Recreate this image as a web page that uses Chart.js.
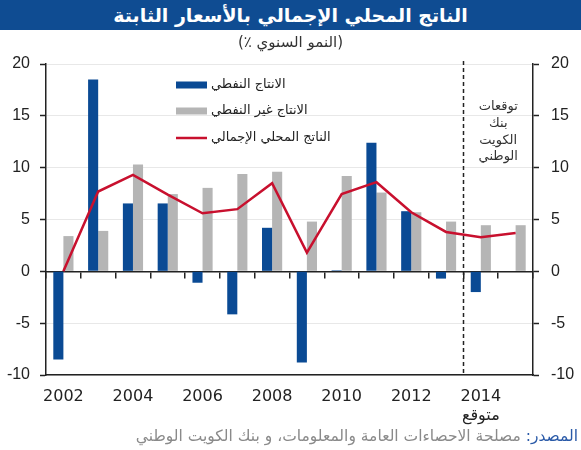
<!DOCTYPE html>
<html><head><meta charset="utf-8">
<script src="https://cdn.jsdelivr.net/npm/chart.js@4.4.1/dist/chart.umd.min.js"></script>
<style>
html,body{margin:0;padding:0;background:#fff;}
#wrap{position:relative;width:581px;height:450px;overflow:hidden;font-family:"DejaVu Sans",Arial,sans-serif;}
canvas{position:absolute;left:0;top:0;}
#banner{position:absolute;left:0;top:0;width:581px;height:30px;background:#0F4C92;color:#fff;font-weight:bold;font-size:19px;line-height:30px;text-align:center;}
#sub{position:absolute;left:0;top:33px;width:581px;text-align:center;font-size:15px;color:#333;line-height:18px;}
#src{position:absolute;right:3px;top:427px;font-size:15.5px;color:#8a8a8a;white-space:nowrap;line-height:18px;}
#src span{color:#2a5aa8;}
</style></head>
<body><div id="wrap">
<canvas id="c" width="581" height="450"></canvas>
<div id="banner" dir="rtl">الناتج المحلي الإجمالي بالأسعار الثابتة</div>
<div id="sub" dir="ltr">(٪ <span dir="rtl">النمو السنوي</span>)</div>
<div id="src" dir="rtl"><span>المصدر:</span> مصلحة الاحصاءات العامة والمعلومات، و بنك الكويت الوطني</div>
</div>
<script>
const years = ['2002','2003','2004','2005','2006','2007','2008','2009','2010','2011','2012','2013','2014','2015'];
const tickLabels = ['2002','','2004','','2006','','2008','','2010','','2012','','2014',''];
const forecastLabel = 'متوقع';
const forecastStart = 12;
const forecastNote = ['توقعات','بنك','الكويت','الوطني'];
const seriesNames = ['الانتاج النفطي','الانتاج غير النفطي','الناتج المحلي الإجمالي'];
const oilGrowth = [-8.5, 18.5, 6.55, 6.55, -1.1, -4.15, 4.2, -8.8, 0.1, 12.4, 5.8, -0.7, -2.0, null];
const nonOilGrowth = [3.4, 3.9, 10.3, 7.45, 8.05, 9.4, 9.6, 4.8, 9.2, 7.6, 5.7, 4.8, 4.45, 4.45];
const gdpGrowth = [0.0, 7.7, 9.3, 7.4, 5.6, 6.0, 8.5, 1.8, 7.45, 8.6, 5.7, 3.8, 3.3, 3.7];
const yTicks = {min:-10, max:20, step:5};

const BLUE = '#0A4A94', GREY = '#B5B5B5', RED = '#C8102E', AX = '#222';

const overlay = {
  id: 'overlay',
  afterDatasetsDraw(chart) {
    const {ctx, chartArea, scales} = chart;
    const x = scales.x;
    const px = Math.round((x.getPixelForValue(forecastStart - 1) + x.getPixelForValue(forecastStart)) / 2) + 0.5;
    ctx.save();
    ctx.strokeStyle = AX; ctx.lineWidth = 1.5; ctx.setLineDash([4, 3]);
    ctx.beginPath(); ctx.moveTo(px, chartArea.top - 3); ctx.lineTo(px, chartArea.bottom); ctx.stroke();
    ctx.setLineDash([]);
    ctx.fillStyle = '#333'; ctx.font = '13px "DejaVu Sans", Arial, sans-serif';
    ctx.textAlign = 'center'; ctx.textBaseline = 'middle';
    const cx = (px + chartArea.right) / 2;
    forecastNote.forEach((t, i) => ctx.fillText(t, cx, 107 + i * 16.7));
    const ds = chart.data.datasets;
    const ly = [85, 111, 138];
    ds.forEach((d, i) => {
      if (d.type === 'line') {
        ctx.strokeStyle = d.borderColor; ctx.lineWidth = 2.5;
        ctx.beginPath(); ctx.moveTo(176, ly[i]); ctx.lineTo(207, ly[i]); ctx.stroke();
      } else {
        ctx.fillStyle = d.backgroundColor; ctx.fillRect(176, ly[i] - 3.5, 31, 7);
      }
      ctx.fillStyle = '#222'; ctx.font = '13px "DejaVu Sans", Arial, sans-serif';
      ctx.textAlign = 'left'; ctx.textBaseline = 'middle';
      ctx.fillText(d.label, 211, ly[i]);
    });
    ctx.restore();
  }
};

new Chart(document.getElementById('c'), {
  data: {
    labels: years,
    datasets: [
      {type:'bar', label: seriesNames[0], data: oilGrowth, backgroundColor: BLUE, order: 1,
       categoryPercentage: 0.58, barPercentage: 1.0},
      {type:'bar', label: seriesNames[1], data: nonOilGrowth, backgroundColor: GREY, order: 2,
       categoryPercentage: 0.58, barPercentage: 1.0},
      {type:'line', label: seriesNames[2], data: gdpGrowth, borderColor: RED, borderWidth: 2.5,
       pointRadius: 0, fill: false, tension: 0, order: 0}
    ]
  },
  options: {
    responsive: false, animation: false,
    layout: {padding: {top: 64, left: 0, right: 0, bottom: 0}},
    plugins: {legend: {display: false}, tooltip: {enabled: false}, title: {display: false}},
    scales: {
      x: {type:'category', position:'bottom', offset:true,
          grid:{display:true, drawOnChartArea:false, drawTicks:false, offset:true},
          border:{display:true, color:AX, width:1.5},
          ticks:{autoSkip:false, maxRotation:0, padding:12, color:'#222',
                 font:{family:'"DejaVu Sans", Arial, sans-serif', size:16},
                 callback:(v, i) => i === forecastStart ? [tickLabels[i], forecastLabel] : tickLabels[i]},
          afterFit(s){ s.height = 75; }},
      xz: {type:'category', position:{y:0}, offset:true,
           grid:{display:true, drawOnChartArea:false, drawTicks:true, tickLength:6, offset:true,
                 color:AX, tickColor:AX, tickWidth:1.5, lineWidth:1.5},
           border:{display:true, color:AX, width:1.5},
           ticks:{display:false}},
      y: {position:'left', min:yTicks.min, max:yTicks.max,
          ticks:{stepSize:yTicks.step, padding:10, color:'#222',
                 font:{family:'"Liberation Sans", Arial, sans-serif', size:16}},
          grid:{color:'#e8e8e8', lineWidth:1, tickLength:6, tickColor:AX, tickWidth:1.5},
          border:{display:true, color:AX, width:1.5},
          afterFit(s){ s.width = 46; }},
      y2: {position:'right', min:yTicks.min, max:yTicks.max,
          ticks:{stepSize:yTicks.step, padding:12, color:'#222',
                 font:{family:'"Liberation Sans", Arial, sans-serif', size:16}},
          grid:{drawOnChartArea:false, tickLength:6, tickColor:AX, tickWidth:1.5},
          border:{display:true, color:AX, width:1.5},
          afterFit(s){ s.width = 48; }}
    }
  },
  plugins: [overlay]
});
</script>
</body></html>
